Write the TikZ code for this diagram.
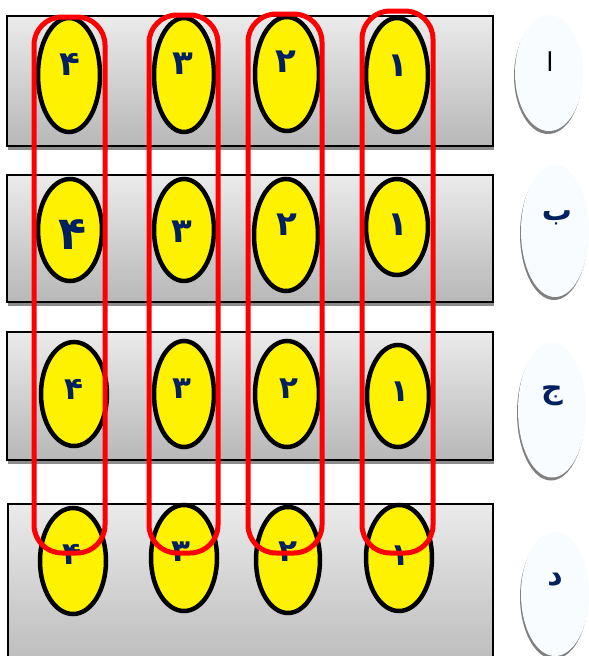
\documentclass[tikz,border=0pt]{standalone}
\usepackage{fontspec}
\usepackage{xcolor}
\usepackage{tikz}
\usetikzlibrary{shapes.geometric}
\newfontfamily\arabicfont[Script=Arabic]{DejaVu Sans}
\definecolor{digitblue}{RGB}{0,32,96}
\definecolor{labelwhite}{RGB}{248,252,255}
\definecolor{loopred}{RGB}{255,0,0}

\begin{document}
\begin{tikzpicture}[x=1pt,y=-1pt,
    strip/.style={draw=black, line width=1.6pt, top color=black!8, bottom color=black!28},
    stripshadow/.style={fill=black!45},
    cell/.style={ellipse, draw=black, line width=4.5pt, fill=yellow, inner sep=0pt},
    digit/.style={text=digitblue, inner sep=0pt},
    redloop/.style={draw=loopred, line width=5pt, rounded corners=28pt},
    tag/.style={ellipse, fill=labelwhite, inner sep=0pt, minimum width=68pt},
    tagshadow/.style={ellipse, fill=black!50, inner sep=0pt, minimum width=68pt},
    taglabel/.style={font=\arabicfont\bfseries\fontsize{30}{30}\selectfont, text=digitblue, inner sep=0pt}]
  \useasboundingbox (0,0) rectangle (589,656);
  \clip (0,0) rectangle (589,656);

  % gray strips
  \foreach \t/\b in {16/146, 175/302, 332/460} {
    \fill[stripshadow] (8,\b) rectangle (494,\b+4);
    \draw[strip] (7,\t) rectangle (493,\b);
  }
  \draw[strip] (8,504) rectangle (493,680);

  % yellow cells
  \foreach \n/\x/\y/\a/\b in {
      a4/69/75/31/57, a3/184/75/30/57, a2/287/74/32/57, a1/397/75/31/57,
      b4/70/230/32/51, b3/184/230/30/51, b2/286/235/32/56, b1/397/227/31/48,
      c4/74/394/33/52, c3/184/394/30/53, c2/287/394/32/53, c1/398/396/31/51,
      d4/73/561/33/53, d3/184/558/33/53, d2/288/560/32/53, d1/399/558/33/53} {
    \node[cell, minimum width=2*\a pt, minimum height=2*\b pt] (\n) at (\x,\y) {};
  }

  % digits
  \foreach \n/\x/\y/\s/\d in {
      a4/70/64/34/۴, a3/183/64/34/۳, a2/286/62/34/۲, a1/398/66/34/۱,
      b4/73/235/46/۴, b3/182/232/34/۳, b2/287/225/34/۲, b1/398/225/34/۱,
      c4/74/389/31/۴, c3/182/389/31/۳, c2/289/389/31/۲, c1/400/392/31/۱,
      d4/72/554/31/۴, d3/181/552/31/۳, d2/288/552/31/۲, d1/400/556/31/۱} {
    \node[digit, font=\arabicfont\bfseries\fontsize{\s}{\s}\selectfont] (t\n) at (\x,\y) {\d};
  }

  % red groups
  \foreach \l/\r/\t in {34/105/17, 149/218/15, 248/322/14, 362/433/11} {
    \draw[redloop] (\l,\t) rectangle (\r,553);
  }

  % row tags
  \foreach \n/\x/\y/\b in {alef/549/73/116, be/555/231/132, jim/552/410/135, dal/555/594/124} {
    \node[tagshadow, minimum height=\b pt] (s\n) at (\x-1,\y+3) {};
    \node[tag, minimum height=\b pt] (\n) at (\x,\y) {};
  }
  \node[taglabel, text=black, font=\arabicfont\fontsize{26}{26}\selectfont] (lalef) at (550,62) {ا};
  \node[taglabel] (lbe) at (557,218) {ب};
  \node[taglabel] (ljim) at (552,396) {ج};
  \node[taglabel] (ldal) at (555,580) {د};
\end{tikzpicture}
\end{document}
